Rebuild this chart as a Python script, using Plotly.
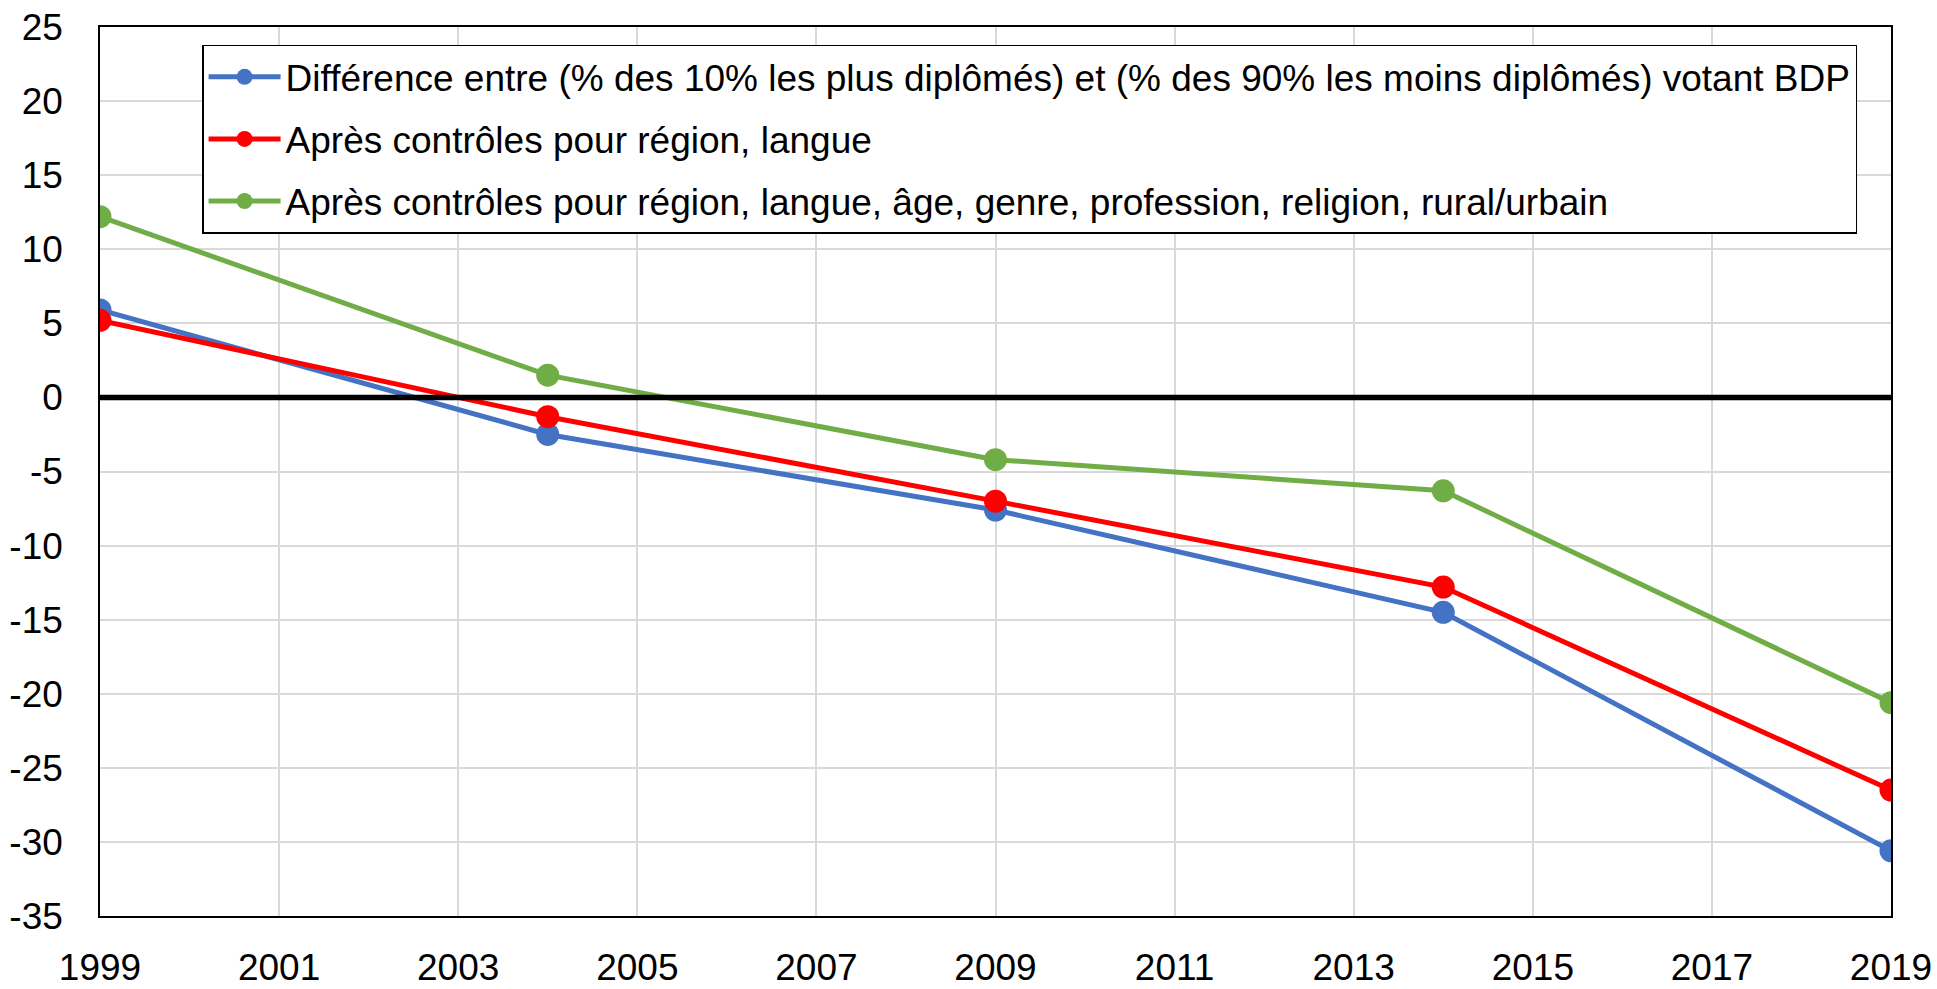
import plotly.graph_objects as go

years = [1999, 2004, 2009, 2014, 2019]
ecart_brut = [5.9, -2.5, -7.6, -14.5, -30.6]
ecart_region_langue = [5.2, -1.3, -7.0, -12.8, -26.5]
ecart_controles_complets = [12.2, 1.5, -4.2, -6.3, -20.6]

noms = [
    "Différence entre (% des 10% les plus diplômés) et (% des 90% les moins diplômés) votant BDP",
    "Après contrôles pour région, langue",
    "Après contrôles pour région, langue, âge, genre, profession, religion, rural/urbain",
]
couleurs = ["#4472C4", "#FF0000", "#70AD47"]
series = [ecart_brut, ecart_region_langue, ecart_controles_complets]

x_ticks = list(range(1999, 2020, 2))
y_ticks = list(range(-35, 26, 5))
y_labels = [str(v) for v in y_ticks]  # plain hyphen for negatives

fig = go.Figure()
for i, (nom, vals, col) in enumerate(zip(noms, series, couleurs)):
    fig.add_trace(go.Scatter(
        x=years, y=vals, name=nom, mode="lines+markers",
        line=dict(color=col, width=5),
        marker=dict(color=col, size=23),
        legendgroup=f"g{i}",
    ))

fig.add_shape(type="line", xref="paper", yref="y", x0=0, x1=1, y0=0, y1=0,
              line=dict(color="black", width=5.5), layer="above")

font = "Liberation Sans, Arial, sans-serif"
fig.update_layout(
    width=1937, height=989,
    margin=dict(l=99.5, r=45.5, t=27, b=73),
    paper_bgcolor="white", plot_bgcolor="white",
    font=dict(family=font, size=37, color="black"),
    legend=dict(
        x=0.057, y=0.98, xanchor="left", yanchor="top",
        bordercolor="black", borderwidth=1.5, bgcolor="white",
        font=dict(size=37), tracegroupgap=11, traceorder="grouped",
        itemwidth=72,
    ),
    xaxis=dict(
        range=[1999, 2019], tickvals=x_ticks, showgrid=True,
        gridcolor="#D9D9D9", gridwidth=1.5, showline=True, linecolor="black",
        linewidth=1.5, mirror=True, zeroline=False, ticks="",
        ticklabelstandoff=18, automargin=False,
    ),
    yaxis=dict(
        range=[-35, 25], tickvals=y_ticks, ticktext=y_labels, showgrid=True,
        gridcolor="#D9D9D9", gridwidth=1.5, showline=True, linecolor="black",
        linewidth=1.5, mirror=True, zeroline=False, ticks="",
        ticklabelstandoff=28, automargin=False,
    ),
)

fig.write_html("out.html")
